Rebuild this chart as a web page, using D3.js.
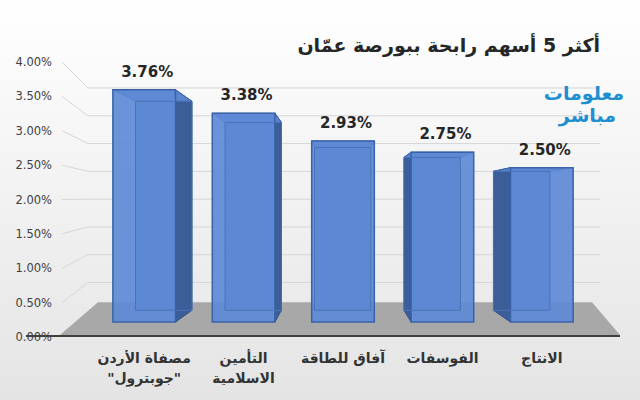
<!DOCTYPE html>
<html><head><meta charset="utf-8">
<script src="https://cdn.jsdelivr.net/npm/d3@7"></script>
<style>body{margin:0}svg{display:block;font-family:"DejaVu Sans",sans-serif}</style>
</head><body><svg id="c" width="640" height="400"></svg>
<script>
const names = [["مصفاة الأردن", "\"جوبترول\""], ["التأمين", "الاسلامية"], ["آفاق للطاقة", ""], ["الفوسفات", ""], ["الانتاج", ""]];
const values = [3.76, 3.38, 2.93, 2.75, 2.50];
const ticks = [0, 0.5, 1, 1.5, 2, 2.5, 3, 3.5, 4];

const svg = d3.select('#c');
const defs = svg.append('defs');
const bg = defs.append('linearGradient').attr('id', 'bg').attr('x1', 0).attr('x2', 0).attr('y1', 0).attr('y2', 1);
bg.append('stop').attr('offset', 0).attr('stop-color', '#ffffff');
bg.append('stop').attr('offset', 1).attr('stop-color', '#e4e4e4');
svg.append('rect').attr('width', 640).attr('height', 400).attr('fill', 'url(#bg)');

// perspective: back plane = front scaled toward vanishing point
const vx = 340, vy = 205, k = 0.9;
const back = (p) => [vx + (p[0] - vx) * k, vy + (p[1] - vy) * k];

const x = d3.scaleBand().domain(d3.range(values.length)).range([88, 598]).paddingInner(0.37).paddingOuter(0.25);
const yFront = d3.scaleLinear().domain([0, 4]).range([322, 75]);
const yAxis = d3.scaleLinear().domain([0, 4]).range([337, 62]);

// floor
const fl = [60, 335], fr = [620, 335];
const bl = back([60, yFront(0)]), br = back([620, yFront(0)]);
svg.append('polygon').attr('points', [fl, fr, [br[0], bl[1] - 8], [bl[0] + 10, bl[1] - 8]].map(p => p.join(',')).join(' '))
  .attr('fill', '#a8a8a8');

// gridlines
ticks.forEach(t => {
  if (t === 0) return;
  const by = back([0, yFront(t)])[1];
  const bx = back([60, 0])[0];
  svg.append('path').attr('d', `M62,${yAxis(t)}L${bx},${by}L600,${by}`)
    .attr('fill', 'none').attr('stroke', '#d6d6d6').attr('stroke-width', 1);
});
svg.append('line').attr('x1', 26).attr('x2', 620).attr('y1', 336).attr('y2', 336)
  .attr('stroke', '#3f3f3f').attr('stroke-width', 2);

svg.selectAll('.tick').data(ticks).join('text')
  .attr('x', 52).attr('y', d => yAxis(d) + 4).attr('text-anchor', 'end')
  .attr('font-size', 11.5).attr('fill', '#404040').text(d => d3.format('.2f')(d) + '%');

// bars
values.forEach((v, i) => {
  const x0 = x(i), x1 = x(i) + x.bandwidth(), yt = yFront(v), yb = yFront(0);
  const F = [[x0, yt], [x1, yt], [x1, yb], [x0, yb]];
  const B = F.map(back);
  const g = svg.append('g');
  g.append('polygon').attr('points', B.map(p => p.join(',')).join(' ')).attr('fill', '#4a74bd');
  const cx = (x0 + x1) / 2;
  const side = cx < vx ? [F[1], B[1], B[2], F[2]] : [F[0], B[0], B[3], F[3]];
  if (Math.abs(cx - vx) > 30)
    g.append('polygon').attr('points', side.map(p => p.join(',')).join(' '))
      .attr('fill', '#3b5e98').attr('stroke', '#2f4f86').attr('stroke-width', 1);
  g.append('polygon').attr('points', [F[0], F[1], B[1], B[0]].map(p => p.join(',')).join(' '))
    .attr('fill', '#5b86cf').attr('stroke', '#3a62a8').attr('stroke-width', 1);
  g.append('polygon').attr('points', F.map(p => p.join(',')).join(' '))
    .attr('fill', '#5d8ad6').attr('fill-opacity', 0.92).attr('stroke', '#3a62a8').attr('stroke-width', 1.5);
  g.append('polygon').attr('points', B.map(p => p.join(',')).join(' '))
    .attr('fill', 'none').attr('stroke', '#4a72b8').attr('stroke-width', 1);
  g.append('text').attr('x', cx + 3).attr('y', yt - 13).attr('text-anchor', 'middle')
    .attr('font-size', 15).attr('font-weight', 'bold').attr('fill', '#262626')
    .text(d3.format('.2f')(v) + '%');
  names[i].forEach((n, j) => {
    g.append('text').attr('x', cx).attr('y', 363 + j * 20).attr('text-anchor', 'middle')
      .attr('font-size', 14).attr('font-weight', 'bold').attr('fill', '#333').attr('direction', 'rtl').text(n);
  });
});

svg.append('text').attr('x', 600).attr('y', 52).attr('text-anchor', 'start').attr('direction', 'rtl')
  .attr('font-size', 19).attr('font-weight', 'bold').attr('fill', '#262626').text('أكثر 5 أسهم رابحة ببورصة عمّان');

svg.append('text').attr('x', 624).attr('y', 100).attr('text-anchor', 'start').attr('direction', 'rtl')
  .attr('font-size', 19).attr('font-weight', 'bold').attr('fill', '#1f8fd0').text('معلومات');
svg.append('text').attr('x', 616).attr('y', 122).attr('text-anchor', 'start').attr('direction', 'rtl')
  .attr('font-size', 19).attr('font-weight', 'bold').attr('fill', '#1f8fd0').text('مباشر');
</script></body></html>
